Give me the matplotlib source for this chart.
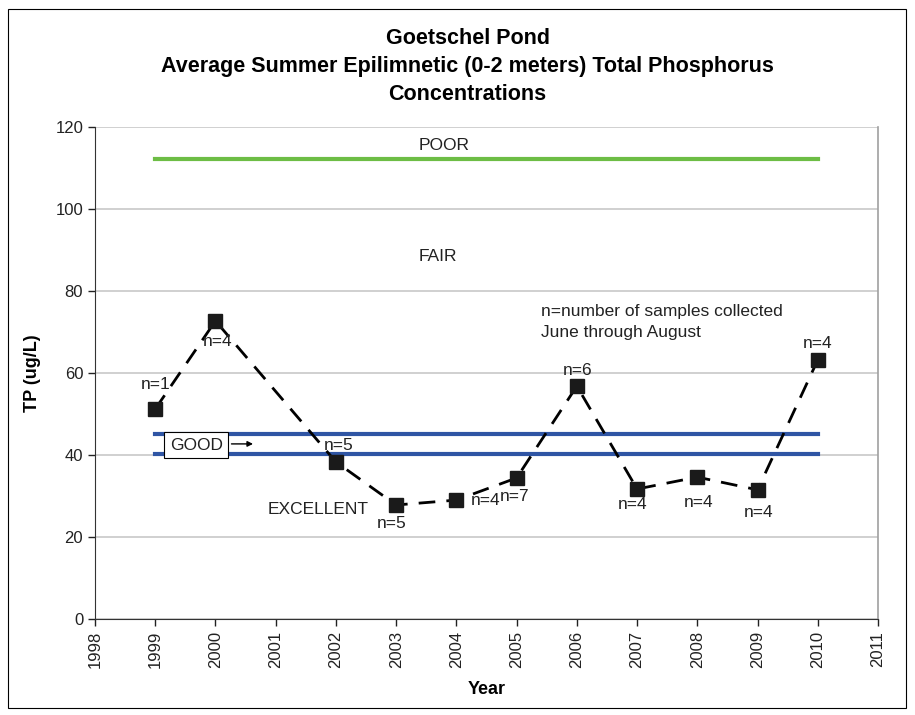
import numpy as np
import matplotlib.pyplot as plt
from matplotlib.patches import Rectangle

plt.rcParams['font.family'] = ['Liberation Sans', 'DejaVu Sans']

# data
years = [1999, 2000, 2002, 2003, 2004, 2005, 2006, 2007, 2008, 2009, 2010]
tp = [51.2, 72.7, 38.3, 27.8, 29.0, 34.4, 56.8, 31.7, 34.6, 31.5, 63.2]
n_labels = ['n=1', 'n=4', 'n=5', 'n=5', 'n=4', 'n=7', 'n=6', 'n=4', 'n=4', 'n=4', 'n=4']
n_pos = [(1999.0, 57.3), (2000.03, 67.8), (2002.04, 42.4), (2002.92, 23.2),
         (2004.48, 28.8), (2004.96, 29.8), (2006.02, 60.5), (2006.92, 28.0),
         (2008.02, 28.5), (2009.01, 25.9), (2010.0, 67.3)]
poor_line = 112.3
good_lines = [45.2, 40.3]
line_years = [1999, 2010]

fz = 12.5
tc = '#222222'

fig = plt.figure(figsize=(9.15, 7.15), dpi=100)
ax = fig.add_axes([0.1038, 0.1343, 0.8558, 0.6881])

# outer chart border
fig.patches.append(Rectangle((0.009, 0.01), 0.981, 0.978, transform=fig.transFigure,
                             fill=False, edgecolor='black', linewidth=0.8))

ax.set_xlim(1998, 2011)
ax.set_ylim(0, 120)
ax.set_xticks(np.arange(1998, 2012, 1))
ax.set_yticks(np.arange(0, 121, 20))
ax.yaxis.grid(True, color='#c8c8c8', linewidth=1.2)
ax.set_axisbelow(True)
plt.setp(ax.get_xticklabels(), rotation=90)
ax.tick_params(axis='both', direction='out', length=5, width=1, labelsize=12, colors=tc)
ax.spines['top'].set_visible(False)
ax.spines['right'].set_color('#a0a0a0')
ax.spines['right'].set_linewidth(1.2)
ax.spines['left'].set_color('#333333')
ax.spines['bottom'].set_color('#333333')

# category lines
ax.plot(line_years, [poor_line, poor_line], color='#6dbd45', linewidth=3)
for g in good_lines:
    ax.plot(line_years, [g, g], color='#2f55a4', linewidth=3)

# data series
ax.plot(years, tp, color='black', linestyle=(0, (6, 4)), linewidth=2,
        marker='s', markersize=9.5, markerfacecolor='#1a1a1a', markeredgecolor='#1a1a1a')

for lab, (x, y) in zip(n_labels, n_pos):
    ax.text(x, y, lab, fontsize=fz, ha='center', va='center', color=tc)

ax.text(2003.8, 115.6, 'POOR', fontsize=fz, ha='center', va='center', color=tc)
ax.text(2003.7, 88.5, 'FAIR', fontsize=fz, ha='center', va='center', color=tc)
ax.text(2001.7, 26.6, 'EXCELLENT', fontsize=fz, ha='center', va='center', color=tc)
ax.text(2005.4, 75.1, 'n=number of samples collected', fontsize=fz, ha='left', va='center', color=tc)
ax.text(2005.4, 69.8, 'June through August', fontsize=fz, ha='left', va='center', color=tc)
ax.text(1999.68, 42.4, 'GOOD', fontsize=fz, ha='center', va='center', color=tc,
        bbox=dict(boxstyle='square,pad=0.3', facecolor='white', edgecolor='black', linewidth=0.8))
ax.annotate('', xy=(2000.67, 42.7), xytext=(2000.22, 42.7),
            arrowprops=dict(arrowstyle='-|>', color='black', linewidth=1, mutation_scale=8))

ax.set_xlabel('Year', fontsize=13, fontweight='bold', labelpad=9)
ax.set_ylabel('TP (ug/L)', fontsize=13, fontweight='bold', labelpad=10)

fig.text(0.511, 0.946, 'Goetschel Pond', fontsize=15.5, fontweight='bold', ha='center', va='center')
fig.text(0.511, 0.907, 'Average Summer Epilimnetic (0-2 meters) Total Phosphorus',
         fontsize=15.5, fontweight='bold', ha='center', va='center')
fig.text(0.511, 0.868, 'Concentrations', fontsize=15.5, fontweight='bold', ha='center', va='center')

fig.savefig('out.png', dpi=100)
